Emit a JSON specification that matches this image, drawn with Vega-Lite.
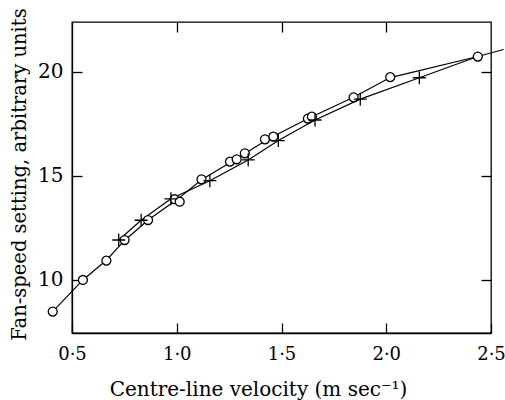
{
  "$schema": "https://vega.github.io/schema/vega-lite/v6.json",
  "width": 419,
  "height": 311,
  "autosize": {"type": "none"},
  "padding": {"left": 72, "top": 22, "right": 14, "bottom": 67},
  "background": "white",
  "config": {
    "view": {"stroke": "black", "strokeWidth": 1.3},
    "font": "DejaVu Serif",
    "axis": {
      "grid": false,
      "tickSize": -10,
      "tickColor": "black",
      "tickWidth": 1.3,
      "domainColor": "black",
      "domainWidth": 1.3,
      "labelFont": "DejaVu Serif",
      "labelFontSize": 18,
      "labelColor": "black",
      "labelFlush": false,
      "labelOverlap": false,
      "titleFont": "DejaVu Serif",
      "titleFontWeight": "normal",
      "titleColor": "black"
    }
  },
  "datasets": {
    "curves": [
      {"series": "circle", "v": 0.408, "f": 8.48},
      {"series": "circle", "v": 0.552, "f": 10.0},
      {"series": "circle", "v": 0.664, "f": 10.95},
      {"series": "circle", "v": 0.751, "f": 11.9},
      {"series": "circle", "v": 0.863, "f": 12.88},
      {"series": "circle", "v": 1.0, "f": 13.85},
      {"series": "circle", "v": 1.118, "f": 14.82},
      {"series": "circle", "v": 1.29, "f": 15.85},
      {"series": "circle", "v": 1.44, "f": 16.8},
      {"series": "circle", "v": 1.635, "f": 17.8},
      {"series": "circle", "v": 1.844, "f": 18.78},
      {"series": "circle", "v": 2.019, "f": 19.73},
      {"series": "circle", "v": 2.437, "f": 20.74},
      {"series": "circle", "v": 2.56, "f": 21.08},
      {"series": "cross", "v": 0.723, "f": 11.92},
      {"series": "cross", "v": 0.83, "f": 12.87},
      {"series": "cross", "v": 0.972, "f": 13.9},
      {"series": "cross", "v": 1.158, "f": 14.77},
      {"series": "cross", "v": 1.341, "f": 15.77},
      {"series": "cross", "v": 1.485, "f": 16.7},
      {"series": "cross", "v": 1.66, "f": 17.69},
      {"series": "cross", "v": 1.876, "f": 18.69},
      {"series": "cross", "v": 2.158, "f": 19.72},
      {"series": "cross", "v": 2.437, "f": 20.74}
    ],
    "circles": [
      {"v": 0.408, "f": 8.48},
      {"v": 0.552, "f": 10.0},
      {"v": 0.664, "f": 10.93},
      {"v": 0.751, "f": 11.92},
      {"v": 0.863, "f": 12.88},
      {"v": 0.99, "f": 13.88},
      {"v": 1.014, "f": 13.76},
      {"v": 1.118, "f": 14.84},
      {"v": 1.254, "f": 15.69},
      {"v": 1.286, "f": 15.8},
      {"v": 1.325, "f": 16.09},
      {"v": 1.421, "f": 16.76},
      {"v": 1.461, "f": 16.89},
      {"v": 1.626, "f": 17.76},
      {"v": 1.645, "f": 17.85},
      {"v": 1.844, "f": 18.78},
      {"v": 2.019, "f": 19.75},
      {"v": 2.437, "f": 20.74}
    ],
    "crosses": [
      {"v": 0.723, "f": 11.92},
      {"v": 0.83, "f": 12.87},
      {"v": 0.972, "f": 13.9},
      {"v": 1.158, "f": 14.77},
      {"v": 1.341, "f": 15.77},
      {"v": 1.485, "f": 16.7},
      {"v": 1.66, "f": 17.69},
      {"v": 1.876, "f": 18.69},
      {"v": 2.158, "f": 19.72}
    ]
  },
  "layer": [
    {
      "data": {"name": "curves"},
      "mark": {"type": "line", "color": "black", "strokeWidth": 1.2},
      "encoding": {
        "x": {
          "field": "v", "type": "quantitative",
          "scale": {"domain": [0.5, 2.5], "nice": false, "zero": false},
          "axis": {
            "orient": "bottom",
            "values": [0.5, 1, 1.5, 2, 2.5],
            "labelExpr": "replace(format(datum.value, '.1f'), '.', '·')",
            "labelPadding": 22,
            "title": "Centre-line velocity (m sec⁻¹)",
            "titleFontSize": 20,
            "titleX": 186,
            "titleY": 62,
            "titleBaseline": "alphabetic",
            "titleAlign": "center"
          }
        },
        "y": {
          "field": "f", "type": "quantitative",
          "scale": {"domain": [7.45, 22.4], "nice": false, "zero": false},
          "axis": {
            "orient": "left",
            "values": [10, 15, 20],
            "labelPadding": 19,
            "labelFontSize": 20,
            "title": "Fan-speed setting, arbitrary units",
            "titleFontSize": 19.5,
            "titleAngle": -90,
            "titleX": -47,
            "titleY": 152,
            "titleBaseline": "alphabetic",
            "titleAlign": "center"
          }
        },
        "detail": {"field": "series"}
      }
    },
    {
      "data": {"name": "circles"},
      "mark": {"type": "point", "shape": "circle", "filled": true, "fill": "white", "stroke": "black", "strokeWidth": 1.3, "size": 80, "opacity": 1},
      "encoding": {
        "x": {"field": "v", "type": "quantitative", "axis": null},
        "y": {"field": "f", "type": "quantitative", "axis": null}
      }
    },
    {
      "data": {"name": "crosses"},
      "mark": {"type": "point", "shape": "M-1,0L1,0M0,-1L0,1", "filled": false, "stroke": "black", "strokeWidth": 1.3, "size": 169, "opacity": 1},
      "encoding": {
        "x": {
          "field": "v", "type": "quantitative",
          "axis": {"orient": "top", "values": [1, 1.5, 2], "labels": false, "title": null, "domain": false}
        },
        "y": {
          "field": "f", "type": "quantitative",
          "axis": {"orient": "right", "values": [10, 15, 20], "labels": false, "title": null, "domain": false}
        }
      }
    }
  ],
  "resolve": {"axis": {"x": "independent", "y": "independent"}}
}
